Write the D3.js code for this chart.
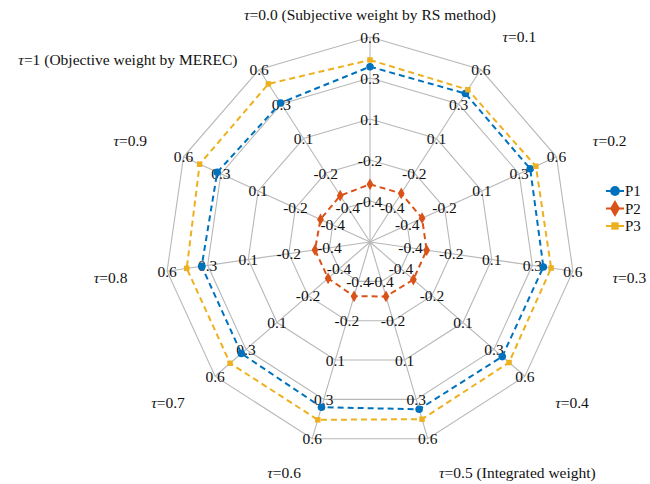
<!DOCTYPE html>
<html><head><meta charset="utf-8">
<script src="https://cdn.jsdelivr.net/npm/d3@7"></script>
<style>
body{margin:0;background:#fff}
</style>
</head><body>
<svg id="chart" width="650" height="484"></svg>
<script>
// ---- data ----
const axisLabels = [
  "τ=0.0 (Subjective weight by RS method)", "τ=0.1", "τ=0.2", "τ=0.3", "τ=0.4",
  "τ=0.5 (Integrated weight)", "τ=0.6", "τ=0.7", "τ=0.8", "τ=0.9",
  "τ=1 (Objective weight by MEREC)"
];
const ringValues = [-0.4, -0.15, 0.1, 0.35, 0.6];
const ringLabels = ["-0.4", "-0.2", "0.1", "0.3", "0.6"];
const seriesNames = ["P1", "P2", "P3"];
const p1 = [0.419, 0.426, 0.424, 0.418, 0.417, 0.413, 0.400, 0.388, 0.387, 0.374, 0.358];
const p2 = [-0.298, -0.298, -0.301, -0.301, -0.300, -0.304, -0.305, -0.312, -0.311, -0.318, -0.314];
const p3 = [0.460, 0.454, 0.462, 0.466, 0.472, 0.476, 0.480, 0.479, 0.479, 0.492, 0.496];
const seriesColors = ["#0072BD", "#D95319", "#EDB120"];
const seriesShapes = [d3.symbolCircle, d3.symbolDiamond, d3.symbolSquare];

// ---- layout ----
const FONT = "'Liberation Serif', 'Times New Roman', Times, serif";
const FS = 15.5;
const svg = d3.select("#chart");
const cx = 370, cy = 242, R = 205;
const n = axisLabels.length;
const rScale = d3.scaleLinear().domain([-0.65, 0.6]).range([0, R]);
const ang = d3.scaleLinear().domain([0, n]).range([0, 2 * Math.PI]);
const pt = (i, v) => {
  const a = ang(i), r = rScale(v);
  return [cx + r * Math.sin(a), cy - r * Math.cos(a)];
};

const grid = svg.append("g");
ringValues.forEach(v => {
  grid.append("polygon")
    .attr("points", d3.range(n).map(i => pt(i, v).join(",")).join(" "))
    .attr("fill", "none").attr("stroke", "#b8b8b8").attr("stroke-width", 1.1);
});
d3.range(n).forEach(i => {
  const [x, y] = pt(i, ringValues[ringValues.length - 1]);
  grid.append("line").attr("x1", cx).attr("y1", cy).attr("x2", x).attr("y2", y)
    .attr("stroke", "#b8b8b8").attr("stroke-width", 1.1);
});
// ring labels
const tl = svg.append("g").attr("font-family", FONT).attr("font-size", FS);
d3.range(n).forEach(i => {
  ringValues.forEach((v, k) => {
    const [x, y] = pt(i, v);
    tl.append("text").attr("x", x).attr("y", y)
      .attr("text-anchor", "middle").attr("dominant-baseline", "central")
      .attr("fill", "#111").text(ringLabels[k]);
  });
});

// axis labels
const al = svg.append("g").attr("font-family", FONT).attr("font-size", FS);
axisLabels.forEach((lab, i) => {
  const a = ang(i);
  const s = Math.sin(a);
  let x = cx + 245 * s, y = cy - 245 * Math.cos(a);
  let anchor = Math.abs(s) < 0.01 ? "middle" : (s > 0 ? "start" : "end");
  if (i === n - 1) y += 23;
  y = Math.max(14, Math.min(472, y));
  const t = al.append("text").attr("x", x).attr("y", y)
    .attr("text-anchor", anchor).attr("dominant-baseline", "central").attr("fill", "#111");
  t.append("tspan").attr("font-style", "italic").text(lab[0]);
  t.append("tspan").text(lab.slice(1));
});

// series
const series = [p1, p2, p3];
const sg = svg.append("g");
series.forEach((vals, s) => {
  const pts = vals.map((v, i) => pt(i, v));
  sg.append("path")
    .attr("d", d3.line().curve(d3.curveLinearClosed)(pts))
    .attr("fill", "none").attr("stroke", seriesColors[s])
    .attr("stroke-width", 2).attr("stroke-dasharray", "6,4");
  const sym = d3.symbol().type(seriesShapes[s]).size(s === 0 ? 45 : (s === 1 ? 40 : 30));
  pts.forEach(p => {
    sg.append("path").attr("d", sym()).attr("transform", `translate(${p[0]},${p[1]})`)
      .attr("fill", seriesColors[s]);
  });
});

// legend
const lg = svg.append("g").attr("font-family", FONT).attr("font-size", 15);
seriesNames.forEach((nm, s) => {
  const y = 191 + s * 17.5;
  lg.append("line").attr("x1", 606).attr("x2", 624).attr("y1", y).attr("y2", y)
    .attr("stroke", seriesColors[s]).attr("stroke-width", 2);
  const sym = d3.symbol().type(seriesShapes[s]).size(s === 0 ? 75 : (s === 1 ? 85 : 55));
  lg.append("path").attr("d", sym()).attr("transform", `translate(615,${y})`)
    .attr("fill", seriesColors[s]);
  lg.append("text").attr("x", 625).attr("y", y).attr("dominant-baseline", "central")
    .attr("fill", "#111").text(nm);
});
</script>
</body></html>
